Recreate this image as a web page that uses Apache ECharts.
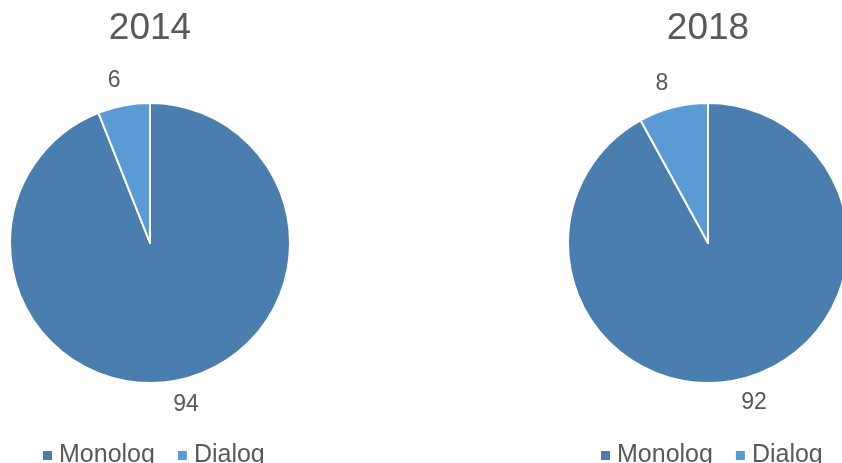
<!DOCTYPE html>
<html>
<head>
<meta charset="utf-8">
<script src="https://cdn.jsdelivr.net/npm/echarts@6/dist/echarts.min.js"></script>
<style>
  html, body { margin: 0; padding: 0; background: #fff; }
  #chart { width: 842px; height: 463px; }
</style>
</head>
<body>
<div id="chart"></div>
<script>
    // data
    var categories = ['Monolog', 'Dialog'];
    var years = ['2014', '2018'];
    var values2014 = [94, 6];
    var values2018 = [92, 8];
    var colors = ['#4A7EAF', '#5B9BD5'];

    var chart = echarts.init(document.getElementById('chart'));
    var font = '"Liberation Sans", Arial, sans-serif';

    function pieSeries(name, values, cx) {
        return {
            name: name,
            type: 'pie',
            center: [cx, 243],
            radius: 140,
            startAngle: 90,
            clockwise: true,
            avoidLabelOverlap: false,
            itemStyle: { borderColor: '#fff', borderWidth: 2 },
            label: {
                show: true,
                position: 'outside',
                formatter: '{c}',
                fontFamily: font,
                fontSize: 23,
                color: '#595959'
            },
            labelLine: { show: false, length: 25, length2: 0 },
            labelLayout: { align: 'center' },
            emphasis: { disabled: true },
            data: categories.map(function (c, i) {
                return { name: c, value: values[i], itemStyle: { color: colors[i] } };
            })
        };
    }

    function legend(left) {
        return {
            data: categories,
            left: left,
            top: 438,
            icon: 'rect',
            itemWidth: 11,
            itemHeight: 11,
            itemGap: 21,
            textStyle: { fontFamily: font, fontSize: 25, color: '#595959', padding: [0, 0, 0, 1] }
        };
    }

    var option = {
        animation: false,
        title: [
            { text: years[0], left: 150, top: 10, textAlign: 'center', padding: 0,
              textStyle: { fontFamily: font, fontSize: 37, fontWeight: 'normal', color: '#595959' } },
            { text: years[1], left: 708, top: 10, textAlign: 'center', padding: 0,
              textStyle: { fontFamily: font, fontSize: 37, fontWeight: 'normal', color: '#595959' } }
        ],
        legend: [legend(36), legend(594)],
        series: [
            pieSeries(years[0], values2014, 150),
            pieSeries(years[1], values2018, 708)
        ]
    };

    chart.setOption(option);
</script>
</body>
</html>
